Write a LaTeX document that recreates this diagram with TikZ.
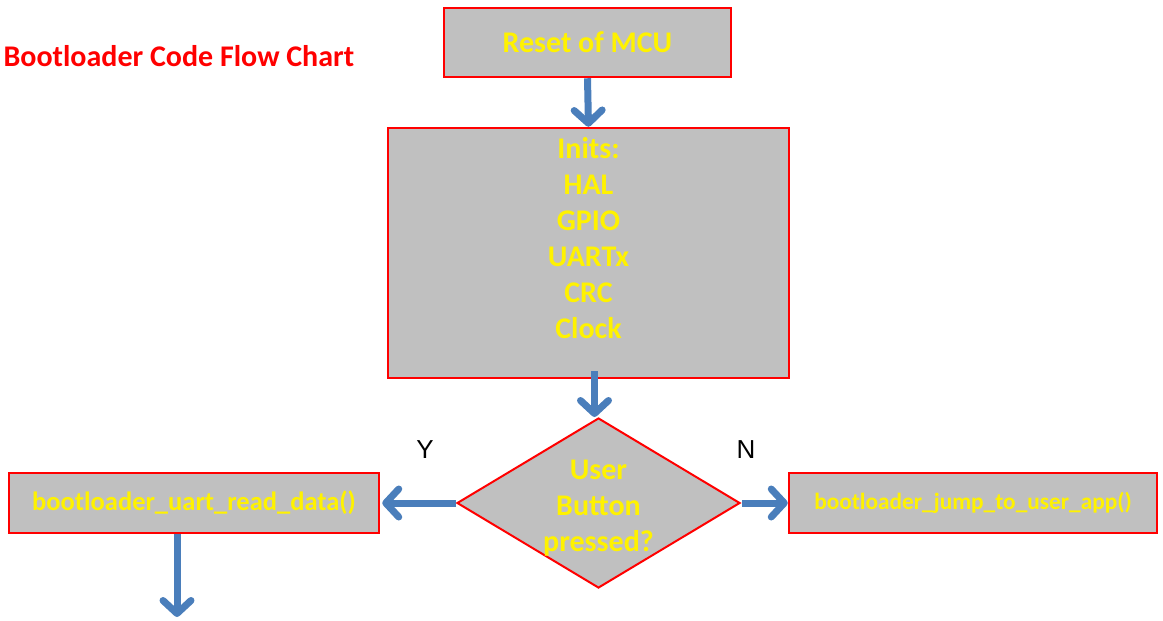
\documentclass[tikz,border=0pt]{standalone}
\usepackage{fontspec}
\setmainfont{Carlito}
\newfontfamily\labelfont{Liberation Sans}
\usetikzlibrary{shapes.geometric,arrows.meta}
\definecolor{flowblue}{RGB}{74,126,187}
\definecolor{boxgray}{RGB}{192,192,192}
\tikzset{
  box/.style={draw=red, fill=boxgray, line width=2.5pt, text=yellow, font=\bfseries\fontsize{30}{36}\selectfont, align=center, inner sep=0pt},
  decision/.style={diamond, draw=red, fill=boxgray, line width=2pt, inner sep=0pt, minimum width=283pt, minimum height=170pt},
  flow/.style={flowblue, line width=7pt, -{Straight Barb[length=13pt,width=28pt,round]}},
  yesno/.style={font=\labelfont\fontsize{26}{30}\selectfont}
}
\begin{document}
\begin{tikzpicture}[x=1pt,y=-1pt]
\useasboundingbox (0,0) rectangle (1163,621);
\node[anchor=west, text=red, font=\bfseries\fontsize{30}{36}\selectfont] (title) at (0,56) {Bootloader Code Flow Chart};

\node[box, minimum width=287pt, minimum height=69pt] (reset) at (587.5,42.5) {Reset of MCU};
\node[box, minimum width=401pt, minimum height=250pt] (inits) at (588.5,253)
  {\parbox[c][248pt][t]{398pt}{\centering\vspace*{8pt}Inits:\\HAL\\GPIO\\UARTx\\CRC\\Clock}};
\node[decision] (button) at (598.5,503) {};
\node[text=yellow, font=\bfseries\fontsize{30}{36}\selectfont, align=center] (buttontext) at ([yshift=-5pt]button) {User\\Button\\pressed?};
\node[box, minimum width=370pt, minimum height=60pt, font=\bfseries\fontsize{26.5}{30}\selectfont] (uart) at (194,503) {bootloader\_uart\_read\_data()};
\node[box, minimum width=368pt, minimum height=60pt, font=\bfseries\fontsize{23.3}{28}\selectfont] (jump) at (973,503) {bootloader\_jump\_to\_user\_app()};
\node[yesno] (yes) at (425,450) {Y};
\node[yesno] (no) at (746,450) {N};
\coordinate (next) at (177,617);

\draw[flow] (reset.south) -- (inits.north);
\draw[flow] ([xshift=6pt,yshift=8pt]inits.south) -- ([xshift=6pt]inits.south |- button.north);
\draw[flow, shorten >=2pt] (button.west) -- (uart.east);
\draw[flow, shorten <=1pt] (button.east) -- (jump.west);
\draw[flow] ([xshift=-17pt]uart.south) -- (next);
\end{tikzpicture}
\end{document}
